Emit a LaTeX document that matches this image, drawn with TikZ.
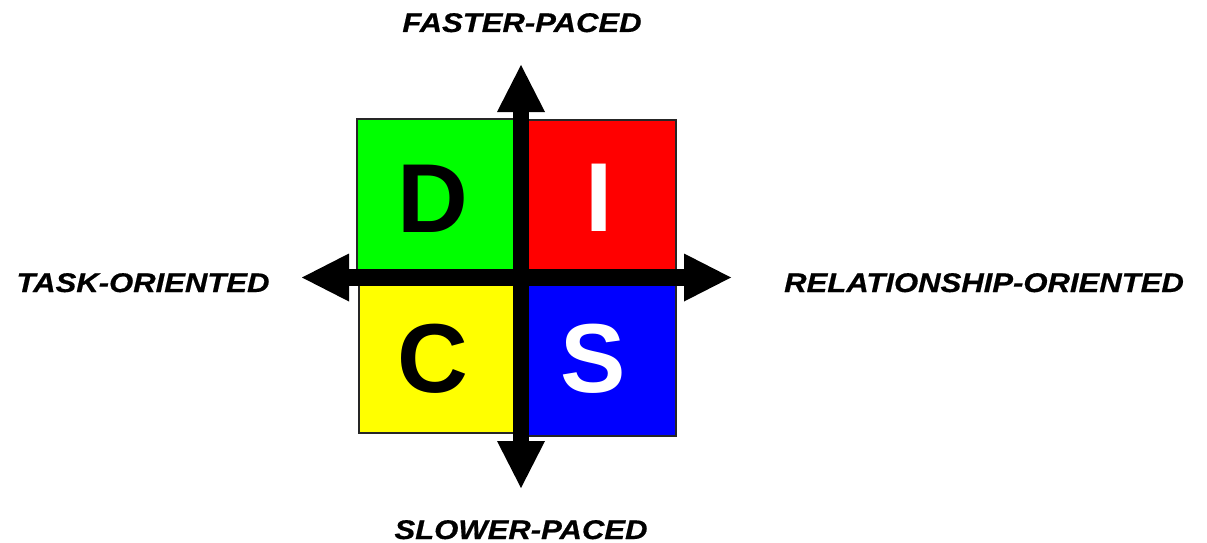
\documentclass[tikz,border=0pt]{standalone}
\usepackage{fontspec}
\setmainfont{Liberation Sans}
\newfontfamily\lblfont[FakeBold=0.6,FakeStretch=1.15,BoldFont={*},ItalicFont={*}]{Liberation Sans Bold Italic}
\usetikzlibrary{arrows.meta}
\begin{document}
\begin{tikzpicture}[x=1pt,y=-1pt,
  quad/.style={draw=black!85,line width=1.2pt},
  axis/.style={line width=16.5pt,{Triangle[length=47pt,width=48pt,line width=0pt]}-{Triangle[length=47pt,width=48pt,line width=0pt]}},
  label/.style={inner sep=0pt,anchor=base,font=\fontsize{27}{30}\lblfont},
  letter/.style={inner sep=0pt,anchor=base,font=\fontsize{98}{100}\selectfont\bfseries}]
\useasboundingbox[fill=white] (0,0) rectangle (1207,543);
% quadrants
\path[quad,fill={rgb,255:red,0;green,255;blue,0}] (357,119) rectangle (521,277.5);
\path[quad,fill={rgb,255:red,255;green,0;blue,0}] (521,120) rectangle (676,277.5);
\path[quad,fill={rgb,255:red,255;green,255;blue,0}] (359,277.5) rectangle (521,433);
\path[quad,fill={rgb,255:red,0;green,0;blue,255}] (521,277.5) rectangle (676,436);
% letters
\node[letter,text=black] (D) at (433,232) {D};
\node[letter,text=white] (I) at (599,231) {I};
\node[letter,text=black] (C) at (433,392) {C};
\node[letter,text=white] (S) at (593,392) {S};
% axes
\coordinate (top) at (521,65);
\coordinate (bottom) at (521,488);
\coordinate (left) at (302,277.5);
\coordinate (right) at (731,277.5);
\draw[axis] (top) -- (bottom);
\draw[axis] (left) -- (right);
% labels
\node[label] (fast) at (522,32) {FASTER-PACED};
\node[label] (slow) at (521,539) {SLOWER-PACED};
\node[label] (task) at (143,292) {TASK-ORIENTED};
\node[label] (rel) at (984,292) {RELATIONSHIP-ORIENTED};
\end{tikzpicture}
\end{document}
